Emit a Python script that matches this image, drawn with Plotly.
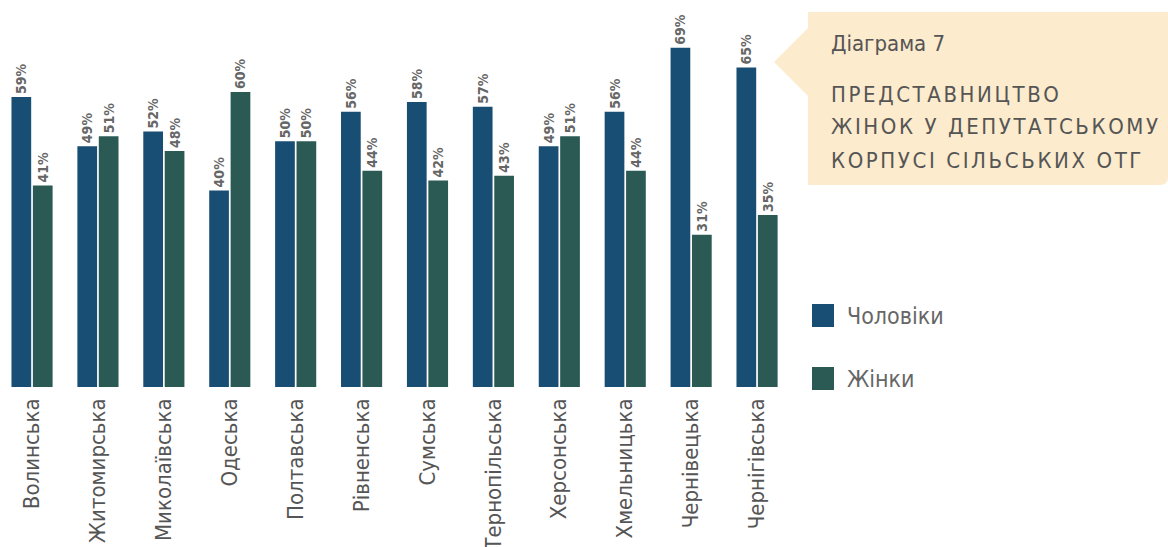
import plotly.graph_objects as go

regions = ["Волинська", "Житомирська", "Миколаївська", "Одеська", "Полтавська", "Рівненська",
           "Сумська", "Тернопільська", "Херсонська", "Хмельницька", "Чернівецька", "Чернігівська"]
men = [59, 49, 52, 40, 50, 56, 58, 57, 49, 56, 69, 65]
women = [41, 51, 48, 60, 50, 44, 42, 43, 51, 44, 31, 35]
series_names = ["Чоловіки", "Жінки"]
colors = ["#184e74", "#2a5a53"]
title_small = "Діаграма 7"
title_lines = ["ПРЕДСТАВНИЦТВО", "ЖІНОК У ДЕПУТАТСЬКОМУ", "КОРПУСІ СІЛЬСЬКИХ ОТГ"]

FONT = "DejaVu Sans Condensed, Liberation Sans, sans-serif"
x_idx = list(range(len(regions)))

fig = go.Figure()
for name, vals, col in zip(series_names, [men, women], colors):
    fig.add_trace(go.Bar(
        x=x_idx, y=vals, name=name, marker=dict(color=col, line=dict(width=0)),
        text=[f"{v}%" for v in vals], textposition="outside", textangle=-90,
        constraintext="none",
        textfont=dict(family=FONT, size=14, color="#666666", weight="bold"),
        cliponaxis=False, showlegend=False, hoverinfo="skip",
    ))

fig.update_layout(
    width=1168, height=547,
    margin=dict(l=0, r=378, t=10, b=160, autoexpand=False),
    paper_bgcolor="white", plot_bgcolor="white",
    barmode="group", bargap=0.35, bargroupgap=0.08,
    xaxis=dict(range=[-0.486, 11.5], tickmode="array", tickvals=x_idx, ticktext=regions,
               tickangle=-90, showgrid=False, zeroline=False, showline=False, ticks="",
               ticklabelstandoff=6, automargin=False,
               tickfont=dict(family=FONT, size=22, color="#555555")),
    yaxis=dict(range=[0, 76.7], visible=False, automargin=False),
    font=dict(family=FONT),
)

def px(x):  # pixel -> paper x
    return x / 790
def py(y):  # pixel -> paper y
    return (387 - y) / 377

box_path = (f"M {px(808)},{py(12)} L {px(1168)},{py(12)} L {px(1168)},{py(177)} "
            f"Q {px(1168)},{py(185)} {px(1160)},{py(185)} L {px(808)},{py(185)} "
            f"L {px(808)},{py(96)} L {px(774)},{py(62)} L {px(808)},{py(28)} Z")
fig.add_shape(type="path", xref="paper", yref="paper", path=box_path,
              fillcolor="#fcebcd", line=dict(width=0), layer="below")

fig.add_annotation(xref="paper", yref="paper", x=px(829), y=py(43), xanchor="left", yanchor="middle",
                   text=title_small, showarrow=False,
                   font=dict(family=FONT, size=22, color="#555555"))
for i, line in enumerate(title_lines):
    fig.add_annotation(xref="paper", yref="paper", x=px(829), y=py(94 + 33 * i),
                       xanchor="left", yanchor="middle", align="left", showarrow=False,
                       text=f"<span style='letter-spacing:2.6px'>{line}</span>",
                       font=dict(family=FONT, size=22, color="#555555"))

# legend
for i, (name, col) in enumerate(zip(series_names, colors)):
    top = 304 + i * 63
    fig.add_shape(type="rect", xref="paper", yref="paper",
                  x0=px(812), x1=px(834), y0=py(top), y1=py(top + 23),
                  fillcolor=col, line=dict(width=0))
    fig.add_annotation(xref="paper", yref="paper", x=px(845), y=py(top + 11.5),
                       xanchor="left", yanchor="middle", text=name, showarrow=False,
                       font=dict(family=FONT, size=23, color="#666666"))

fig.write_html("out.html", config={"displayModeBar": False},
               post_script="document.body.style.margin='0';")
